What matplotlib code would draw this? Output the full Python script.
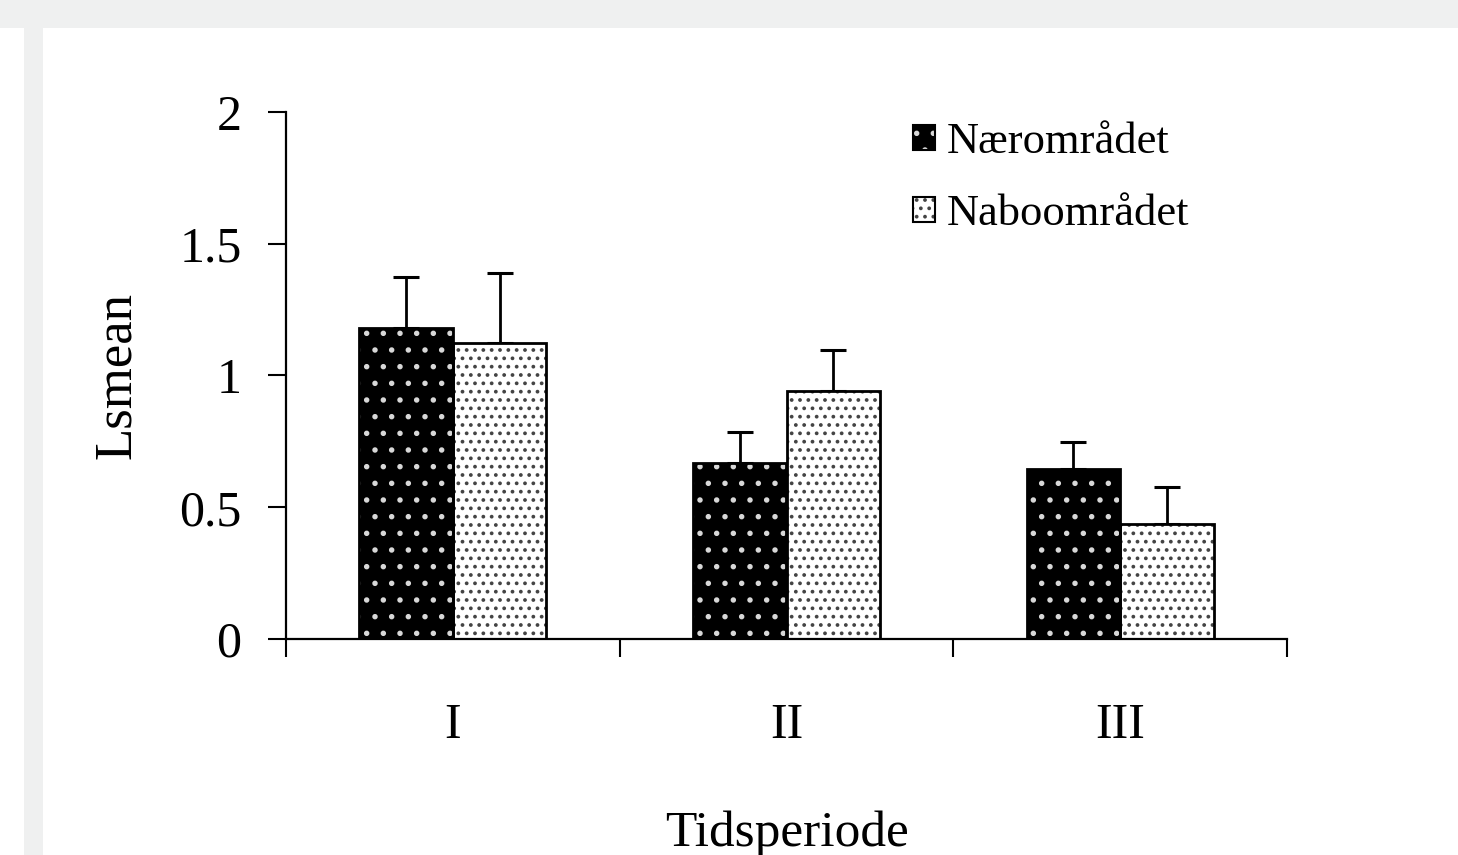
import numpy as np
import matplotlib.pyplot as plt
from matplotlib.patches import Rectangle

# data
perioder = ['I', 'II', 'III']
naer = [1.18, 0.668, 0.645]        # Nærområdet
naer_err = [0.195, 0.118, 0.103]
nabo = [1.123, 0.941, 0.436]       # Naboområdet
nabo_err = [0.266, 0.156, 0.141]
yticks = [0, 0.5, 1, 1.5, 2]
ytick_labels = ['0', '0.5', '1', '1.5', '2']

plt.rcParams['font.family'] = ['Liberation Serif', 'DejaVu Serif']
plt.rcParams['hatch.linewidth'] = 1.5

W, H = 1458, 855
fig = plt.figure(figsize=(W / 100, H / 100), dpi=100, facecolor='white')

# grå ramme rundt siden
grey = '#eff0f0'
fig.patches.append(Rectangle((0, 1 - 28 / H), 1, 28 / H, transform=fig.transFigure,
                             facecolor=grey, edgecolor='none', zorder=-10))
fig.patches.append(Rectangle((24 / W, 0), 19 / W, 1, transform=fig.transFigure,
                             facecolor=grey, edgecolor='none', zorder=-10))

ax = fig.add_axes([286 / W, 216 / H, 1001 / W, 527 / H])
ax.set_facecolor('none')

x = np.arange(len(perioder))
w = 0.28

# mørke søyler: svart med hvite prikker
ax.bar(x - w / 2, naer, w, color='black', edgecolor='#d8d8d8', hatch='.', linewidth=0, zorder=2)
ax.bar(x - w / 2, naer, w, fill=False, edgecolor='black', linewidth=2, zorder=3)
# lyse søyler: hvit med svarte prikker
ax.bar(x + w / 2, nabo, w, color='white', edgecolor='#444444', hatch='..', linewidth=0, zorder=2)
ax.bar(x + w / 2, nabo, w, fill=False, edgecolor='black', linewidth=2, zorder=3)

ax.errorbar(x - w / 2, naer, yerr=[np.zeros(3), naer_err], fmt='none', ecolor='black',
            elinewidth=2, capsize=9.5, capthick=2.2, zorder=1)
ax.errorbar(x + w / 2, nabo, yerr=[np.zeros(3), nabo_err], fmt='none', ecolor='black',
            elinewidth=2, capsize=9.5, capthick=2.2, zorder=1)

# legend handles (fyll + kant)
h1 = Rectangle((0, 0), 1, 1, facecolor='black', edgecolor='#d8d8d8', hatch='.', linewidth=0)
h1k = Rectangle((0, 0), 1, 1, fill=False, edgecolor='black', linewidth=1.5)
h2 = Rectangle((0, 0), 1, 1, facecolor='white', edgecolor='#444444', hatch='..', linewidth=0)
h2k = Rectangle((0, 0), 1, 1, fill=False, edgecolor='black', linewidth=1.5)
ax.legend([(h1, h1k), (h2, h2k)], ['Nærområdet', 'Naboområdet'], loc='upper left',
          bbox_to_anchor=(913 / W, 1 - 122 / H), bbox_transform=fig.transFigure,
          frameon=False, fontsize=32, handlelength=0.5, handleheight=0.5,
          handletextpad=0.27, labelspacing=0.73, borderpad=0, borderaxespad=0)

ax.set_xlim(-0.5, 2.5)
ax.set_ylim(0, 2)
ax.set_yticks(yticks)
ax.set_yticklabels(ytick_labels)
ax.set_xticks([-0.5, 0.5, 1.5, 2.5])
ax.set_xticklabels([])
ax.set_xticks(x, minor=True)
ax.set_xticklabels(perioder, minor=True)

ax.spines['top'].set_visible(False)
ax.spines['right'].set_visible(False)
for s in ['left', 'bottom']:
    ax.spines[s].set_linewidth(1.6)

ax.tick_params(axis='y', direction='out', length=13, width=1.5, labelsize=36, pad=19)
ax.tick_params(axis='x', which='major', direction='out', length=13, width=1.5)
ax.tick_params(axis='x', which='minor', length=0, labelsize=36, pad=46)

ax.set_ylabel('Lsmean', fontsize=38)
ax.yaxis.set_label_coords(-0.145, 0.5)
ax.set_xlabel('Tidsperiode', fontsize=37)
ax.xaxis.set_label_coords(0.5, -0.325)

fig.savefig('out.png', dpi=100, facecolor='white')
